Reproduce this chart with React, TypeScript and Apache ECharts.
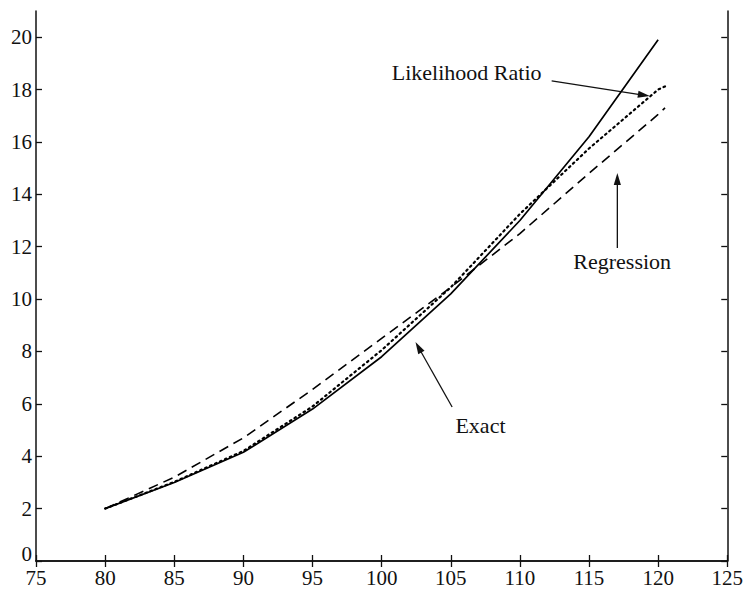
import React, { useEffect, useRef } from "react";
import * as echarts from "echarts";

// ---- data ----
const xTicks = [75, 80, 85, 90, 95, 100, 105, 110, 115, 120, 125];
const yTicks = [0, 2, 4, 6, 8, 10, 12, 14, 16, 18, 20];

const exactX = [80, 85, 90, 95, 100, 105, 110, 115, 120];
const exactY = [2.0, 3.0, 4.15, 5.8, 7.8, 10.2, 13.0, 16.2, 19.9];

const lrX = [80, 85, 90, 95, 100, 105, 110, 115, 120, 120.5];
const lrY = [2.0, 3.02, 4.2, 5.9, 8.05, 10.45, 13.25, 15.75, 18.0, 18.12];

const regX = [80, 85, 90, 95, 100, 105, 110, 115, 120, 120.5];
const regY = [2.0, 3.2, 4.7, 6.55, 8.5, 10.45, 12.5, 14.8, 17.05, 17.3];

// annotation labels (data units): text anchor, arrow start, arrow tip
const labelNames = ["Likelihood Ratio", "Regression", "Exact"];
const labelAt = [[106.15, 18.67], [117.4, 11.45], [107.15, 5.19]];
const arrowFrom = [[112.3, 18.33], [117.05, 11.95], [105.1, 5.88]];
const arrowTo = [[119.4, 17.75], [117.05, 14.81], [102.45, 8.36]];

const FONT = "Liberation Serif, Times New Roman, serif";

const zip = (xs: number[], ys: number[]) => xs.map((x, i) => [x, ys[i]]);

export default function App() {
  const ref = useRef<HTMLDivElement>(null);
  useEffect(() => {
    if (!ref.current) return;
    const chart = echarts.init(ref.current, null, { renderer: "svg" });
    const axisLine = { show: true, lineStyle: { color: "#111", width: 1.5 } };
    const tickInside = { show: true, inside: true, length: 6, lineStyle: { color: "#111", width: 1.3 } };
    const label = { color: "#111", fontFamily: FONT, fontSize: 21, lineHeight: 16 };
    chart.setOption({
      animation: false,
      backgroundColor: "#fff",
      grid: { left: 36, right: 9, top: 11, bottom: 28, containLabel: false },
      xAxis: [
        {
          type: "value", position: "bottom", min: 75, max: 125, interval: 5,
          axisLine, axisTick: tickInside, splitLine: { show: false },
          axisLabel: { ...label, margin: 9, customValues: xTicks },
        },
        {
          type: "value", position: "top", min: 75, max: 125, interval: 5,
          axisLine, axisTick: tickInside, splitLine: { show: false },
          axisLabel: { show: false },
        },
      ],
      yAxis: [
        {
          type: "value", position: "left", min: 0, max: 21, interval: 2,
          axisLine, axisTick: { ...tickInside, customValues: yTicks }, splitLine: { show: false },
          axisLabel: {
            ...label, margin: 4, customValues: yTicks,
            formatter: (v: number) => (v === 0 ? "{z|0}" : String(v)),
            rich: { z: { color: "#111", fontFamily: FONT, fontSize: 21, lineHeight: 16, padding: [0, 0, 14, 0] } },
          },
        },
        {
          type: "value", position: "right", min: 0, max: 21, interval: 2,
          axisLine, axisTick: { ...tickInside, customValues: yTicks }, splitLine: { show: false },
          axisLabel: { show: false },
        },
      ],
      series: [
        {
          name: "Exact", type: "line", data: zip(exactX, exactY), showSymbol: false,
          lineStyle: { color: "#000", width: 1.7, type: "solid" },
        },
        {
          name: "Likelihood Ratio", type: "line", data: zip(lrX, lrY), showSymbol: false,
          lineStyle: { color: "#000", width: 2.2, type: [1.6, 3.8], cap: "round" },
        },
        {
          name: "Regression", type: "line", data: zip(regX, regY), showSymbol: false,
          lineStyle: { color: "#000", width: 1.6, type: [10, 6] },
        },
      ],
    });

    const px = (p: number[]) => chart.convertToPixel({ xAxisIndex: 0, yAxisIndex: 0 }, p) as number[];
    const graphic: any[] = [];
    labelNames.forEach((name, i) => {
      const t = px(labelAt[i]);
      graphic.push({
        type: "text", x: t[0], y: t[1],
        style: { text: name, fill: "#111", font: `22px ${FONT}`, align: "center", verticalAlign: "middle" },
      });
      const a = px(arrowFrom[i]);
      const b = px(arrowTo[i]);
      const dx = b[0] - a[0], dy = b[1] - a[1];
      const len = Math.hypot(dx, dy);
      const ux = dx / len, uy = dy / len;
      const hl = 12, hw = 3.6;
      const bx = b[0] - ux * hl, by = b[1] - uy * hl;
      graphic.push({
        type: "line",
        shape: { x1: a[0], y1: a[1], x2: bx + ux * 2, y2: by + uy * 2 },
        style: { stroke: "#111", lineWidth: 1.3 },
      });
      graphic.push({
        type: "polygon",
        shape: { points: [[b[0], b[1]], [bx - uy * hw, by + ux * hw], [bx + uy * hw, by - ux * hw]] },
        style: { fill: "#111" },
      });
    });
    chart.setOption({ graphic });
    return () => chart.dispose();
  }, []);
  return (
    <div
      ref={ref}
      style={{ position: "absolute", left: 0, top: 0, width: 746, height: 589, background: "#fff" }}
    />
  );
}
